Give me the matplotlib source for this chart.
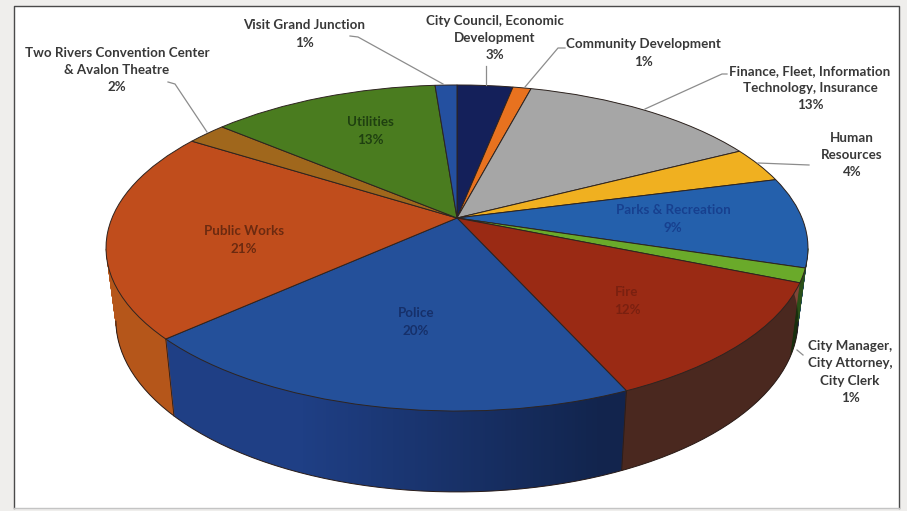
import numpy as np
import matplotlib
matplotlib.use('Agg')
import matplotlib.pyplot as plt
from matplotlib.patches import Polygon, Rectangle
from matplotlib.transforms import Transform

# Datos del grafico (en sentido horario desde las 12)
departments = ['City Council, Economic\nDevelopment', 'Community Development',
               'Finance, Fleet, Information\nTechnology, Insurance', 'Human\nResources',
               'Parks & Recreation', 'City Manager,\nCity Attorney,\nCity Clerk', 'Fire', 'Police',
               'Public Works', 'Two Rivers Convention Center\n& Avalon Theatre', 'Utilities',
               'Visit Grand Junction']
# estimados del angulo de cada porcion, la etiqueta muestra el valor redondeado
shares = [3.07, 1.0, 13.33, 3.5, 8.95, 1.4, 12.05, 19.95, 20.75, 2.2, 12.6, 1.2]

top_colors = ['#14205a', '#e8721f', '#a6a6a6', '#f0b020', '#2460ac', '#6aaa2a',
              '#9a2a14', '#24509a', '#c04d1c', '#a0671c', '#4a7c1f', '#2450a0']
wall_colors = ['#0d1640', '#a8500f', '#707070', '#a87a10', '#1a4580', '#2a5018',
               '#804537', '#1f3f85', '#b5561a', '#74490f', '#335815', '#1a3a75']
text_colors = ['#383838', '#383838', '#383838', '#383838', '#17408f', '#383838',
               '#7a2010', '#16306a', '#6b2a10', '#383838', '#1f4010', '#383838']
# centro de cada etiqueta en pixeles
label_pos = [(495, 38), (643, 53), (810, 88), (852, 155), (673, 219), (850, 372),
             (627, 301), (416, 322), (244, 240), (117, 70), (370, 131), (304, 34)]
leaders = [[(486, 66), (486, 85)],
           [(565, 48), (558, 48), (525, 87)],
           [(727, 74), (722, 74), (645, 109)],
           [(809, 165), (758, 163)],
           None,
           [(797, 350), (803, 355)],
           None, None, None,
           [(168, 82), (175, 84), (207, 132)],
           None,
           [(350, 36), (358, 37), (443, 84)]]

W, H = 907, 511
APEX_X, APEX_Y = 457, 218


class Perspectiva(Transform):
    # Lleva el pie unitario a pixeles con perspectiva (t=0 cara superior, t=1 base)
    input_dims = 2
    output_dims = 2
    is_affine = False

    def __init__(self, t=0.0):
        super().__init__()
        self.t = t

    def transform_non_affine(self, values):
        values = np.asarray(values, dtype=float)
        x, y = values[:, 0], values[:, 1]
        w = 1 + 0.184 * y
        px = 345 * x / w
        py = -157.5 * y / w
        sx = 1 - 0.028 * self.t
        sy = 1 + 0.055 * self.t
        return np.column_stack([APEX_X + sx * px, APEX_Y + sy * py + 70.3 * self.t])

    def inverted(self):
        raise NotImplementedError


fig = plt.figure(figsize=(W / 100, H / 100), dpi=100, facecolor='#efeeec')
ax = fig.add_axes([0, 0, 1, 1])
ax.axis('off')


def draw_pie(colors, t, zorder, **wedgeprops):
    wedges, _ = ax.pie(shares, colors=colors, startangle=90, counterclock=False,
                       wedgeprops=wedgeprops)
    for wedge in wedges:
        wedge.set_transform(Perspectiva(t) + ax.transData)
        wedge.set_zorder(zorder)
        wedge.set_clip_on(False)


# Pared lateral: muchas copias apiladas de abajo hacia arriba
n_layers = 85
for i in range(n_layers, 0, -1):
    draw_pie(wall_colors, i / n_layers, 3 + (n_layers - i) * 0.001, linewidth=0)

ax.set_aspect('auto')
ax.set_xlim(0, W)
ax.set_ylim(H, 0)

# Marco
ax.add_patch(Rectangle((14, 6), 885, 502, facecolor='white', edgecolor='none', zorder=0))
ax.plot([14, 14, 899, 899], [508, 6, 6, 508], color='#4a4a4a', lw=1.0, zorder=1)
ax.plot([14, 899], [508, 508], color='#c4c4c4', lw=1.0, zorder=1)

# Oscurecer la pared hacia la derecha
theta = np.linspace(0, 2 * np.pi, 361)
circle = np.column_stack([np.cos(theta), np.sin(theta)])
upper = Perspectiva(0.0).transform_non_affine(circle[circle[:, 1] >= 0])
lower = Perspectiva(1.0).transform_non_affine(circle[circle[:, 1] < 0])
silhouette = Polygon(np.vstack([upper, lower]), closed=True, transform=ax.transData)
ramp = np.zeros((1, W, 4))
ramp[0, :, 3] = np.clip((np.arange(W) - 300) / 300, 0, 1) * 0.42
shade = ax.imshow(ramp, extent=(0, W, H, 0), aspect='auto', zorder=4, interpolation='bilinear')
shade.set_clip_path(silhouette)
ax.set_xlim(0, W)
ax.set_ylim(H, 0)

# Contorno lateral, para suavizar el borde de las capas apiladas
layers_t = np.linspace(0, 1, 40)
outline = [Perspectiva(t).transform_non_affine(circle) for t in layers_t]
left_edge = np.array([p[np.argmin(p[:, 0])] for p in outline])
right_edge = np.array([p[np.argmax(p[:, 0])] for p in outline])
strip = np.vstack([left_edge, left_edge[::-1] + [20, 0]])
ax.add_patch(Polygon(strip, closed=True, facecolor=wall_colors[8], edgecolor=wall_colors[8],
                     linewidth=0.6, zorder=4.4))
ax.plot(right_edge[:, 0], right_edge[:, 1], color=wall_colors[5], lw=1.0, zorder=4.5)

# Borde inferior de la base, solo donde es contorno real
tangent_y = min(left_edge[-1, 1], right_edge[-1, 1])
base_edge = lower[lower[:, 1] >= tangent_y]
ax.plot(base_edge[:, 0], base_edge[:, 1], color='#2a1c18', lw=0.7, zorder=5)

# Separadores verticales de la pared
cum = np.cumsum(shares) / np.sum(shares)
for frac in cum[[6, 7]]:
    ang = np.pi / 2 - 2 * np.pi * frac
    pt = np.array([[np.cos(ang), np.sin(ang)]])
    a = Perspectiva(0.0).transform_non_affine(pt)[0]
    b = Perspectiva(1.0).transform_non_affine(pt)[0]
    ax.plot([a[0], b[0]], [a[1], b[1]], color='#2a1c18', lw=0.6, zorder=5)

# Cara superior
draw_pie(top_colors, 0.0, 6, edgecolor='#2e2420', linewidth=0.7)
ax.set_aspect('auto')
ax.set_xlim(0, W)
ax.set_ylim(H, 0)

# Etiquetas y lineas guia
for name, share, color, (x, y), leader in zip(departments, shares, text_colors, label_pos, leaders):
    ax.text(x, y, f'{name}\n{round(share)}%', ha='center', va='center', color=color,
            family='Lato', weight='bold', fontsize=9.6, linespacing=1.54, zorder=8)
    if leader:
        xs, ys = zip(*leader)
        ax.plot(xs, ys, color='#8c8c8c', lw=0.9, zorder=7)

fig.savefig('out.png', dpi=100, facecolor=fig.get_facecolor())
